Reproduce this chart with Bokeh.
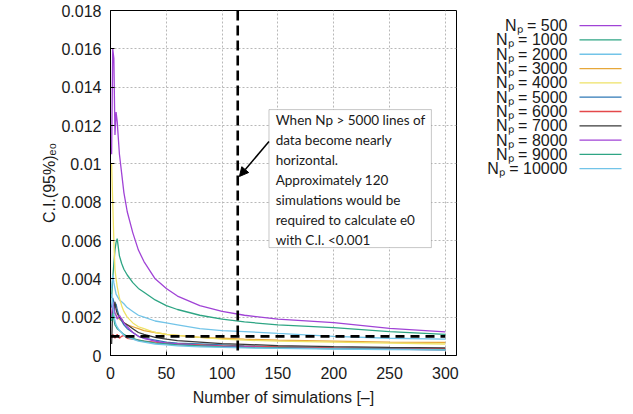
from bokeh.plotting import figure
from bokeh.models import Range1d, FixedTicker, Arrow, NormalHead, Label, BoxAnnotation, Span
from bokeh.layouts import row
from bokeh.embed import file_html
from bokeh.resources import INLINE
from bokeh.core.properties import value

# ---------------- data ----------------
xs = [1, 2, 3, 4, 5, 6, 8, 10, 12, 15, 20, 25, 30, 40, 50, 60, 80, 100, 120, 150, 200, 250, 300]

np_labels = ["500", "1000", "2000", "3000", "4000", "5000", "6000", "7000", "8000", "9000", "10000"]
colors = ["#a043d6", "#2ea584", "#72c4e8", "#e6a73a", "#eee266", "#2f78b6",
          "#e4484a", "#3a3a3a", "#a043d6", "#2ea584", "#72c4e8"]

ci_500 = [0.0105, 0.0160, 0.0155, 0.0115, 0.0127, 0.0122, 0.0105, 0.0095, 0.0085, 0.0075, 0.0064,
          0.0055, 0.0049, 0.0040, 0.0035, 0.0031, 0.0026, 0.0023, 0.0021, 0.0019, 0.00172, 0.00142, 0.00123]
ci_1000 = [0.0030, 0.0040, 0.0048, 0.0055, 0.0059, 0.0061, 0.0052, 0.0048, 0.0045, 0.0042, 0.0038,
           0.0035, 0.0033, 0.0029, 0.0026, 0.0024, 0.0021, 0.0019, 0.00175, 0.0016, 0.00145, 0.00125, 0.0011]
ci_2000 = [0.0035, 0.0042, 0.0038, 0.0035, 0.0032, 0.0031, 0.0029, 0.0028, 0.0027, 0.0025, 0.0023,
           0.0021, 0.0020, 0.0018, 0.0017, 0.0016, 0.0014, 0.0013, 0.00125, 0.00115, 0.0010, 0.0009, 0.00085]
ci_3000 = [0.0020, 0.0026, 0.0024, 0.0022, 0.0021, 0.0020, 0.0019, 0.0018, 0.0017, 0.0016, 0.0015,
           0.0014, 0.0013, 0.0012, 0.0011, 0.00105, 0.00095, 0.0009, 0.00085, 0.0008, 0.00075, 0.0007, 0.00068]
ci_4000 = [0.0100, 0.0080, 0.0060, 0.0045, 0.0040, 0.0036, 0.0030, 0.0026, 0.0023, 0.0020, 0.0017,
           0.0015, 0.0014, 0.0012, 0.0011, 0.00105, 0.00095, 0.00085, 0.0008, 0.00075, 0.0007, 0.00065, 0.0006]
ci_5000 = [0.0025, 0.0030, 0.0028, 0.0025, 0.0027, 0.0024, 0.0020, 0.0018, 0.0016, 0.0014, 0.0012,
           0.0010, 0.0009, 0.0008, 0.0007, 0.00065, 0.0006, 0.00055, 0.0005, 0.00045, 0.0004, 0.00037, 0.00035]
ci_6000 = [0.0009, 0.0011, 0.0010, 0.0009, 0.0010, 0.0011, 0.0009, 0.0010, 0.00105, 0.0009, 0.00085,
           0.0008, 0.00075, 0.0007, 0.00065, 0.0006, 0.00055, 0.0005, 0.00048, 0.00045, 0.0004, 0.00038, 0.00036]
ci_7000 = [0.0006, 0.0025, 0.0022, 0.0028, 0.0024, 0.0022, 0.0020, 0.0019, 0.0017, 0.0016, 0.0014,
           0.0012, 0.0011, 0.00095, 0.00085, 0.00078, 0.0007, 0.00062, 0.00058, 0.00052, 0.00046, 0.00042, 0.0004]
ci_8000 = [0.0020, 0.0028, 0.0025, 0.0022, 0.0021, 0.0019, 0.0021, 0.0019, 0.0017, 0.0015, 0.0012,
           0.0010, 0.0009, 0.00075, 0.00065, 0.0006, 0.00052, 0.00048, 0.00045, 0.0004, 0.00036, 0.00033, 0.0003]
ci_9000 = [0.0018, 0.0022, 0.0019, 0.0016, 0.0015, 0.0014, 0.0013, 0.0012, 0.0011, 0.0010, 0.0009,
           0.0008, 0.00075, 0.00065, 0.0006, 0.00055, 0.0005, 0.00045, 0.00042, 0.0004, 0.00036, 0.00033, 0.0003]
ci_10000 = [0.0032, 0.0026, 0.0022, 0.0018, 0.0016, 0.0015, 0.0013, 0.0012, 0.00105, 0.00095, 0.00085,
            0.00075, 0.0007, 0.0006, 0.00055, 0.0005, 0.00045, 0.00042, 0.0004, 0.00037, 0.00034, 0.00031, 0.00029]

series = [ci_500, ci_1000, ci_2000, ci_3000, ci_4000, ci_5000, ci_6000, ci_7000, ci_8000, ci_9000, ci_10000]

x_ticks = [0, 50, 100, 150, 200, 250, 300]
y_ticks = [0, 0.002, 0.004, 0.006, 0.008, 0.01, 0.012, 0.014, 0.016, 0.018]
y_tick_labels = ["0", "0.002", "0.004", "0.006", "0.008", "0.01", "0.012", "0.014", "0.016", "0.018"]

threshold_ci = 0.001
required_sims = 114

note_lines = ["When Np > 5000 lines of", "data become nearly", "horizontal.",
              "Approximately 120", "simulations would be", "required to calculate e0",
              "with C.I. <0.001"]

# ---------------- main figure ----------------
W1 = 462
H = 410
p = figure(width=W1, height=H, output_backend="svg", toolbar_location=None,
           x_range=Range1d(0, 310), y_range=Range1d(0, 0.018),
           min_border_left=110, min_border_right=W1 - 110 - 346,
           min_border_top=10, min_border_bottom=H - 10 - 345)
p.background_fill_color = "white"
p.outline_line_color = "black"
p.outline_line_width = 1

for ax in (p.xaxis[0], p.yaxis[0]):
    ax.major_tick_in = 4
    ax.major_tick_out = 0
    ax.minor_tick_line_color = None
    ax.axis_line_color = "black"
    ax.major_label_text_font = "Liberation Sans"
    ax.major_label_text_font_size = "16px"
    ax.major_label_text_color = "#1a1a1a"
    ax.axis_label_text_font = "Liberation Sans"
    ax.axis_label_text_font_size = "16px"
    ax.axis_label_text_font_style = "normal"
    ax.axis_label_text_color = "#1a1a1a"

p.xaxis.ticker = FixedTicker(ticks=x_ticks)
p.yaxis.ticker = FixedTicker(ticks=y_ticks)
p.yaxis.major_label_overrides = {v: s for v, s in zip(y_ticks, y_tick_labels)}
p.xaxis.major_label_standoff = 11
p.yaxis.major_label_standoff = 9
p.xaxis.axis_label = "Number of simulations [–]"
p.yaxis.axis_label = "C.I.(95%)ₑ₀"
p.xaxis.axis_label_standoff = 7
p.yaxis.axis_label_standoff = 0

p.xgrid.grid_line_color = "#b8b8b8"
p.ygrid.grid_line_color = "#b8b8b8"
p.xgrid.grid_line_dash = "2 2"
p.ygrid.grid_line_dash = "2 2"
p.xgrid.grid_line_width = 1
p.ygrid.grid_line_width = 1

for ys_, c in zip(series, colors):
    p.line(xs, ys_, line_color=c, line_width=1.3)

# threshold lines
p.line([0, xs[-1]], [threshold_ci, threshold_ci], line_color="black", line_width=2.6, line_dash="9 6")
p.add_layout(Span(location=required_sims, dimension="height", line_color="black",
                  line_width=2.6, line_dash="10 5"))

# annotation box
box_left, box_right = 142, 287.5
box_top, box_bottom = 0.01283, 0.00563
p.add_layout(BoxAnnotation(left=box_left, right=box_right, top=box_top, bottom=box_bottom,
                           fill_color="white", fill_alpha=1.0, line_color="#444444", line_width=1))
line_step = (box_top - box_bottom) / 6.9
for i, t in enumerate(note_lines):
    p.add_layout(Label(x=box_left + 6, y=box_top - 0.00052 - i * line_step, text=t,
                       text_font="Lato", text_font_size="13.5px", text_color="#1a1a1a",
                       text_baseline="middle", text_align="left"))

p.add_layout(Arrow(end=NormalHead(size=9, fill_color="black", line_color="black"),
                   x_start=box_left, y_start=box_top - 0.00052 - 1.1 * line_step,
                   x_end=required_sims + 1.5, y_end=0.00934,
                   line_color="black", line_width=1.5))

# ---------------- legend figure ----------------
W2 = 162
lg = figure(width=W2, height=H, output_backend="svg", toolbar_location=None,
            x_range=Range1d(0, W2), y_range=Range1d(H, 0),
            min_border=0, min_border_left=0, min_border_right=0,
            min_border_top=0, min_border_bottom=0)
lg.axis.visible = False
lg.grid.visible = False
lg.outline_line_color = None

row_y = [18 + 17 * i for i in range(len(np_labels))]
text_right = 105
lg.text(x=[text_right] * len(np_labels), y=row_y, text=["Nₚ = " + s for s in np_labels],
        text_align="right", text_baseline="middle", text_font=value("Liberation Sans"),
        text_font_size="16px", text_color="#1a1a1a")
lg.segment(x0=[text_right + 12] * len(np_labels), y0=row_y,
           x1=[text_right + 54] * len(np_labels), y1=row_y,
           line_color=colors, line_width=1.3)

layout = row(p, lg)
open("out.html", "w").write(file_html(layout, INLINE))
